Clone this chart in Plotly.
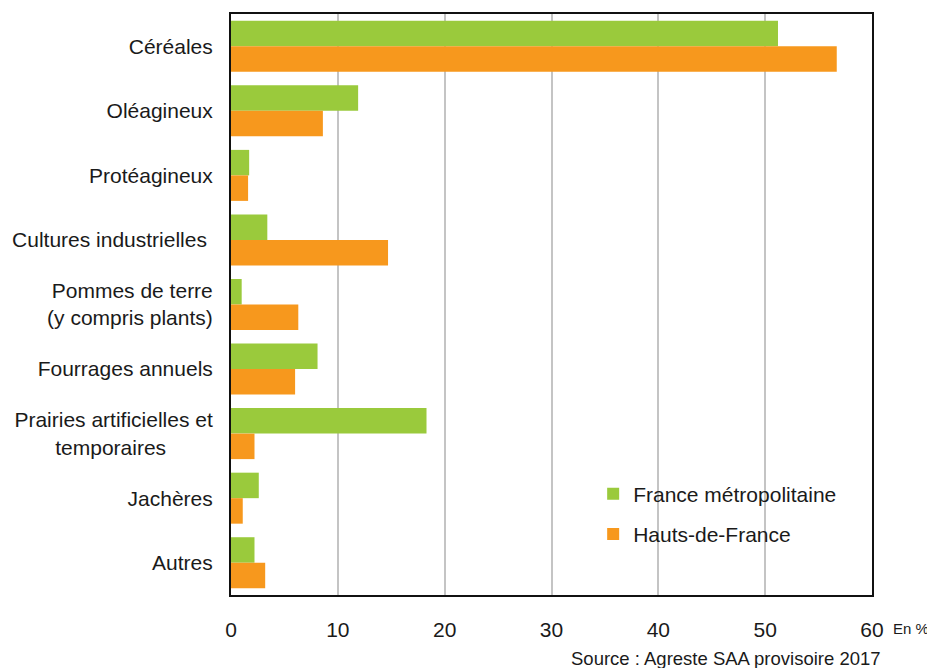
import plotly.graph_objects as go

categories = ["Céréales", "Oléagineux", "Protéagineux", "Cultures industrielles",
              "Pommes de terre (y compris plants)", "Fourrages annuels",
              "Prairies artificielles et temporaires", "Jachères", "Autres"]
category_labels = ["Céréales", "Oléagineux", "Protéagineux", "Cultures industrielles ",
                   "Pommes de terre<br>(y compris plants)", "Fourrages annuels",
                   "Prairies artificielles et<br>temporaires" + "\u00a0" * 8,
                   "Jachères", "Autres"]
france = [51.2, 11.9, 1.7, 3.4, 1.0, 8.1, 18.3, 2.6, 2.2]
hdf = [56.7, 8.6, 1.6, 14.7, 6.3, 6.0, 2.2, 1.1, 3.2]
x_ticks = [0, 10, 20, 30, 40, 50, 60]

fig = go.Figure()
fig.add_trace(go.Bar(y=categories, x=france, orientation="h", name="France métropolitaine",
                     marker=dict(color="#9aca3c", line=dict(width=0)), legendgroup="a"))
fig.add_trace(go.Bar(y=categories, x=hdf, orientation="h", name="Hauts-de-France",
                     marker=dict(color="#f7981d", line=dict(width=0)), legendgroup="b"))

fig.update_layout(
    width=927, height=660,
    margin=dict(l=222, r=63, t=4, b=73),
    paper_bgcolor="white", plot_bgcolor="white",
    barmode="group", bargap=0.21, bargroupgap=0,
    font=dict(family="Liberation Sans, Arial, sans-serif", size=21, color="#1a1a1a"),
    showlegend=True,
    legend=dict(x=0.565, y=0.209, xanchor="left", yanchor="top",
                traceorder="grouped", tracegroupgap=10,
                font=dict(size=21), bgcolor="rgba(0,0,0,0)"),
    xaxis=dict(range=[0, 60], tickvals=x_ticks, showgrid=True, gridcolor="#c4c4c4",
               gridwidth=2, zeroline=False, showline=True, linecolor="#111",
               linewidth=2, mirror=True, ticks="", ticklabelstandoff=15,
               tickfont=dict(size=21)),
    yaxis=dict(autorange="reversed", showline=True, linecolor="#111", linewidth=2,
               mirror=True, ticks="", ticklabelstandoff=12, tickfont=dict(size=21),
               tickmode="array", tickvals=categories, ticktext=category_labels),
    annotations=[
        dict(text="En %", x=1.0, y=0, xref="paper", yref="paper", xanchor="left",
             yanchor="middle", xshift=19, yshift=-33, showarrow=False, font=dict(size=15)),
        dict(text="Source : Agreste SAA provisoire 2017", x=1.0, y=0, xref="paper",
             yref="paper", xanchor="right", yanchor="middle", xshift=11, yshift=-63,
             showarrow=False, font=dict(size=18.5)),
    ],
)

fig.write_html("out.html")
